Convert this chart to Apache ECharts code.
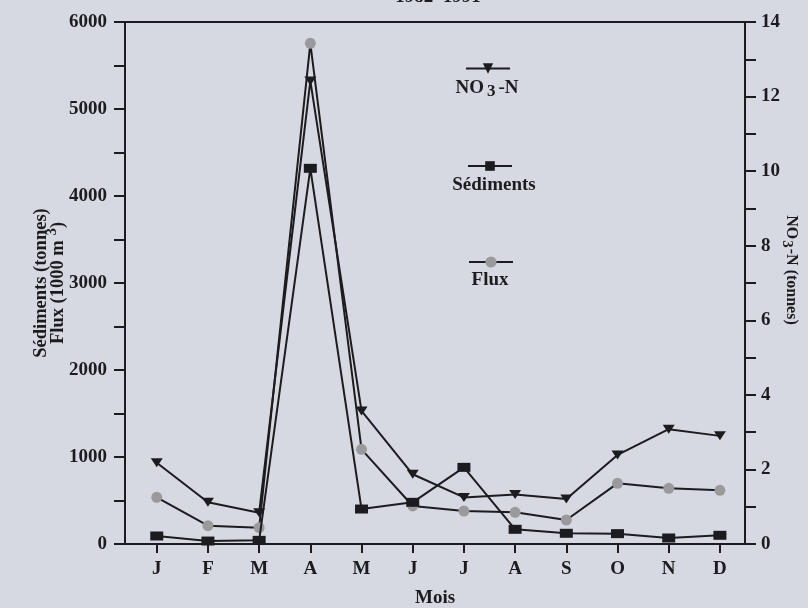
<!DOCTYPE html>
<html><head><meta charset="utf-8">
<script src="https://cdn.jsdelivr.net/npm/echarts@6/dist/echarts.min.js"></script>
<style>html,body{margin:0;padding:0;background:#d8dae2}#c{width:808px;height:608px}</style>
</head><body><div id="c"></div>
<script>
const months = ['J','F','M','A','M','J','J','A','S','O','N','D'];
const no3n = [2.18,1.12,0.84,12.42,3.57,1.87,1.25,1.33,1.21,2.39,3.08,2.90];
const sediments = [92,34,42,4318,402,479,881,169,123,119,69,100];
const flux = [536,211,188,5755,1088,437,379,364,276,697,640,617];
const seriesNames = ['NO3-N','Sédiments','Flux'];

const FONT = 'Liberation Serif';
const INK = '#1c1b1f';
const GRAY = '#9a9a9c';
const idx = months.map((m,i)=>i);
const pairs = arr => arr.map((v,i)=>[i,v]);
const txt = {fontFamily:FONT,fontWeight:'bold',fontSize:19,color:INK};

const chart = echarts.init(document.getElementById('c'));
chart.setOption({
  backgroundColor:'#d7d9e2',
  animation:false,
  grid:{left:125,right:63,top:22,bottom:64,outerBoundsMode:'none',containLabel:false},
  xAxis:[{
    type:'value',min:-0.62,max:11.49,
    name:'Mois',nameLocation:'middle',nameGap:45,nameMoveOverlap:false,
    nameTextStyle:Object.assign({},txt),
    axisLine:{onZero:false,lineStyle:{color:INK,width:2}},
    axisTick:{show:true,length:9,lineStyle:{color:INK,width:2},customValues:idx},
    axisLabel:Object.assign({margin:16,customValues:idx,formatter:v=>months[Math.round(v)]},txt),
    splitLine:{show:false}
  },{
    type:'value',min:-0.62,max:11.49,position:'top',
    axisLine:{show:true,onZero:false,lineStyle:{color:INK,width:2}},
    axisTick:{show:false},axisLabel:{show:false},splitLine:{show:false}
  }],
  yAxis:[{
    type:'value',min:0,max:6000,interval:1000,position:'left',
    name:'{a|Sédiments (tonnes)}\n{a|Flux (1000 m }{s|3}{a|)}',
    nameLocation:'middle',nameGap:57,nameRotate:90,nameMoveOverlap:false,
    nameTextStyle:{rich:{
      a:{fontFamily:FONT,fontWeight:'bold',fontSize:18.5,color:INK,lineHeight:17,verticalAlign:'bottom'},
      s:{fontFamily:FONT,fontWeight:'bold',fontSize:15,color:INK,lineHeight:15,verticalAlign:'bottom',padding:[0,0,8,0]}
    }},
    axisLine:{show:true,onZero:false,lineStyle:{color:INK,width:2}},
    axisTick:{show:true,length:11,lineStyle:{color:INK,width:2}},
    minorTick:{show:true,splitNumber:2,length:11,lineStyle:{color:INK,width:2}},
    axisLabel:Object.assign({margin:18,formatter:v=>String(v)},txt),
    splitLine:{show:false}
  },{
    type:'value',min:0,max:14,interval:2,position:'right',
    name:'{a|NO}{s|3}{a|-N (tonnes)}',
    nameLocation:'middle',nameGap:36,nameRotate:-90,nameMoveOverlap:false,
    nameTextStyle:{padding:[0,26,0,0],rich:{
      a:{fontFamily:FONT,fontWeight:'bold',fontSize:16,color:INK,lineHeight:20},
      s:{fontFamily:FONT,fontWeight:'bold',fontSize:15,color:INK,lineHeight:20,padding:[8,1,0,1]}
    }},
    axisLine:{show:true,onZero:false,lineStyle:{color:INK,width:2}},
    axisTick:{show:true,length:11,lineStyle:{color:INK,width:2}},
    minorTick:{show:true,splitNumber:2,length:11,lineStyle:{color:INK,width:2}},
    axisLabel:Object.assign({margin:16,formatter:v=>String(v)},txt),
    splitLine:{show:false}
  }],
  legend:[
    {data:[seriesNames[0]],left:465,top:62,itemWidth:44,itemHeight:13,padding:0,formatter:()=>'',selectedMode:false},
    {data:[seriesNames[1]],left:467,top:160,itemWidth:44,itemHeight:12,padding:0,formatter:()=>'',selectedMode:false},
    {data:[seriesNames[2]],left:468,top:255,itemWidth:44,itemHeight:14,padding:0,formatter:()=>'',selectedMode:false}
  ],
  graphic:[
    {type:'text',style:{text:'1982–1991',x:438,y:-3,align:'center',verticalAlign:'middle',font:'bold 19px "Liberation Serif"',fill:INK}},
    {type:'text',style:{text:'{a|NO}{s|3}{a|-N}',x:487,y:88,align:'center',verticalAlign:'middle',
      rich:{a:{fontFamily:FONT,fontWeight:'bold',fontSize:19,fill:INK,lineHeight:20},
            s:{fontFamily:FONT,fontWeight:'bold',fontSize:17,fill:INK,lineHeight:20,padding:[8,3,0,3]}}}},
    {type:'text',style:{text:'Sédiments',x:494,y:185,align:'center',verticalAlign:'middle',font:'bold 19px "Liberation Serif"',fill:INK}},
    {type:'text',style:{text:'Flux',x:490,y:280,align:'center',verticalAlign:'middle',font:'bold 19px "Liberation Serif"',fill:INK}}
  ],
  series:[
    {name:seriesNames[0],type:'line',yAxisIndex:1,data:pairs(no3n),
     symbol:'triangle',symbolSize:[12,9],symbolRotate:180,
     itemStyle:{color:INK},lineStyle:{color:INK,width:2},z:3},
    {name:seriesNames[1],type:'line',yAxisIndex:0,data:pairs(sediments),
     symbol:'rect',symbolSize:[13,9],
     itemStyle:{color:INK},lineStyle:{color:INK,width:2},z:2},
    {name:seriesNames[2],type:'line',yAxisIndex:0,data:pairs(flux),
     symbol:'circle',symbolSize:11,
     itemStyle:{color:GRAY},lineStyle:{color:INK,width:2},z:1}
  ]
});
</script></body></html>
